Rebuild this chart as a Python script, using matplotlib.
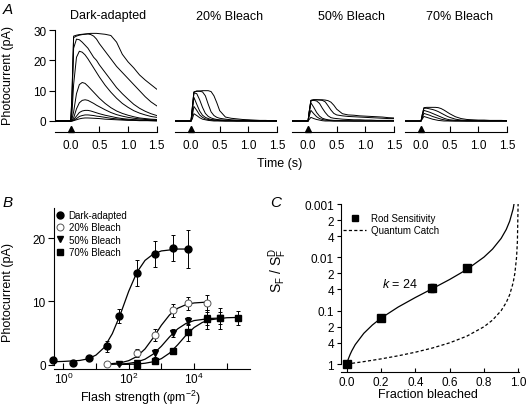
import matplotlib
matplotlib.use('Agg')
import matplotlib.pyplot as plt
from matplotlib.lines import Line2D

plt.rcParams['font.family'] = ['Liberation Sans', 'DejaVu Sans']
plt.rcParams['mathtext.fontset'] = 'custom'
plt.rcParams['mathtext.rm'] = 'Liberation Sans'
plt.rcParams['mathtext.it'] = 'Liberation Sans:italic'
plt.rcParams['axes.linewidth'] = 0.8

# --- panel A: flash responses (pA) on a common time grid (s) ---
t_grid = [-0.28, 0, 0.02, 0.05, 0.1, 0.15, 0.2, 0.25, 0.3, 0.35, 0.4, 0.45,
          0.5, 0.6, 0.7, 0.8, 0.9, 1.0, 1.1, 1.2, 1.3, 1.4, 1.5]

dark_traces = [
    [0, 0, 8, 28, 28.3, 28.5, 28.6, 28.7, 28.8, 28.9, 28.9, 28.9, 28.8, 28.6, 28.2, 26, 22, 19.5, 17.5, 15.2, 13.5, 12, 10.5],
    [0, 0, 7, 27.5, 28, 28.3, 28.5, 28.6, 28.7, 28.5, 28, 27, 25.5, 23, 20.5, 18, 16, 14, 12, 10, 8, 6.3, 5],
    [0, 0, 5, 24, 27, 26.8, 26, 25, 24, 22.5, 21, 20, 18.5, 16, 13.5, 11, 9, 7.2, 5.5, 4.2, 3.2, 2.4, 1.8],
    [0, 0, 2, 12, 21, 23, 22.7, 21.8, 20.5, 19, 17.5, 16, 14.5, 11.8, 9.5, 7.5, 5.8, 4.5, 3.4, 2.6, 2, 1.5, 1.2],
    [0, 0, 0.5, 3, 9, 12, 12.7, 12.4, 11.5, 10.5, 9.5, 8.5, 7.5, 5.8, 4.4, 3.3, 2.5, 1.9, 1.4, 1.0, 0.8, 0.6, 0.5],
    [0, 0, 0.2, 1, 4, 6, 6.8, 7, 6.8, 6.3, 5.8, 5.2, 4.7, 3.7, 2.8, 2.1, 1.6, 1.2, 0.9, 0.7, 0.5, 0.4, 0.3],
    [0, 0, 0, 0.4, 1.6, 2.8, 3.3, 3.5, 3.5, 3.3, 3.0, 2.7, 2.4, 1.9, 1.5, 1.1, 0.8, 0.6, 0.45, 0.35, 0.3, 0.2, 0.2],
    [0, 0, 0, 0.2, 0.8, 1.5, 1.8, 2.0, 2.0, 1.9, 1.8, 1.6, 1.5, 1.2, 0.9, 0.7, 0.5, 0.4, 0.3, 0.2, 0.2, 0.1, 0.1],
    [0, 0, 0, 0.1, 0.4, 0.7, 0.9, 1.0, 1.0, 0.95, 0.9, 0.85, 0.8, 0.6, 0.5, 0.4, 0.3, 0.2, 0.2, 0.1, 0.1, 0.1, 0],
]
bleach20_traces = [
    [0, 0, 4, 9.6, 9.9, 9.9, 10, 10, 10, 9.7, 8.3, 6.0, 3.4, 1.3, 0.9, 0.7, 0.5, 0.4, 0.3, 0.2, 0.2, 0.1, 0.1],
    [0, 0, 4, 9.5, 9.8, 9.8, 9.6, 8.3, 5.5, 3.0, 1.8, 1.2, 0.9, 0.6, 0.4, 0.3, 0.2, 0.2, 0.1, 0.1, 0.1, 0, 0],
    [0, 0, 3.5, 9.3, 9.0, 7.0, 4.5, 2.5, 1.5, 1.0, 0.7, 0.5, 0.4, 0.3, 0.2, 0.1, 0.1, 0.1, 0, 0, 0, 0, 0],
    [0, 0, 3, 7.8, 5.5, 3.3, 1.9, 1.2, 0.8, 0.5, 0.4, 0.3, 0.2, 0.1, 0.1, 0, 0, 0, 0, 0, 0, 0, 0],
    [0, 0, 1.5, 4.8, 3.5, 2.0, 1.2, 0.7, 0.5, 0.3, 0.2, 0.2, 0.1, 0, 0, 0, 0, 0, 0, 0, 0, 0, 0],
    [0, 0, 0.6, 2.4, 1.8, 1.1, 0.6, 0.4, 0.2, 0.1, 0, 0, 0, 0, 0, 0, 0, 0, 0, 0, 0, 0, 0],
]
bleach50_traces = [
    [0, 0, 3, 6.8, 7.0, 7.0, 7.0, 7.0, 6.9, 6.7, 6.2, 5.2, 3.9, 2.4, 2.0, 1.9, 1.7, 1.6, 1.5, 1.4, 1.3, 1.1, 1.0],
    [0, 0, 3, 6.8, 7.0, 7.0, 6.9, 6.8, 6.3, 5.0, 3.6, 2.5, 2.0, 1.7, 1.5, 1.4, 1.3, 1.2, 1.1, 1.0, 0.9, 0.8, 0.8],
    [0, 0, 3, 6.7, 6.8, 6.6, 5.8, 4.2, 2.8, 1.7, 1.1, 0.9, 0.8, 0.6, 0.5, 0.4, 0.4, 0.3, 0.3, 0.2, 0.2, 0.2, 0.2],
    [0, 0, 2.5, 6.0, 4.5, 2.8, 1.6, 0.9, 0.6, 0.4, 0.3, 0.2, 0.2, 0.1, 0.1, 0, 0, 0, 0, 0, 0, 0, 0],
    [0, 0, 1.5, 3.5, 2.4, 1.4, 0.8, 0.5, 0.3, 0.2, 0.1, 0, 0, 0, 0, 0, 0, 0, 0, 0, 0, 0, 0],
    [0, 0, 0.5, 1.2, 0.8, 0.5, 0.3, 0.1, 0, 0, 0, 0, 0, 0, 0, 0, 0, 0, 0, 0, 0, 0, 0],
]
bleach70_traces = [
    [0, 0, 2, 4.4, 4.5, 4.5, 4.5, 4.5, 4.4, 4.1, 3.6, 3.0, 2.4, 1.4, 0.8, 0.5, 0.4, 0.3, 0.3, 0.2, 0.2, 0.2, 0.1],
    [0, 0, 2, 4.2, 4.2, 4.0, 3.8, 3.5, 3.1, 2.6, 2.1, 1.6, 1.2, 0.6, 0.3, 0.2, 0.1, 0.1, 0, 0, 0, 0, 0],
    [0, 0, 1.5, 3.5, 3.2, 2.9, 2.5, 2.1, 1.7, 1.3, 0.9, 0.6, 0.4, 0.2, 0.1, 0, 0, 0, 0, 0, 0, 0, 0],
    [0, 0, 1, 2.5, 2.2, 1.9, 1.5, 1.2, 0.9, 0.6, 0.4, 0.2, 0.1, 0, 0, 0, 0, 0, 0, 0, 0, 0, 0],
    [0, 0, 0.6, 1.5, 1.2, 0.9, 0.6, 0.4, 0.2, 0.1, 0, 0, 0, 0, 0, 0, 0, 0, 0, 0, 0, 0, 0],
]
titles_a = ['Dark-adapted', '20% Bleach', '50% Bleach', '70% Bleach']
time_ticks = [0.0, 0.5, 1.0, 1.5]

# --- panel B: intensity-response ---
flash_dark = [0.5, 2, 6, 22, 50, 180, 630, 2300, 6600]
resp_dark = [0.7, 0.3, 1.0, 2.9, 7.7, 14.5, 17.5, 18.5, 18.3]
err_dark = [0.2, 0.2, 0.3, 0.9, 1.1, 2.0, 2.1, 2.1, 3.0]
flash_20 = [22, 180, 630, 2300, 6600, 25000]
resp_20 = [0.1, 1.8, 4.7, 8.6, 9.7, 9.8]
err_20 = [0.0, 0.65, 1.0, 1.0, 1.0, 1.2]
flash_50 = [50, 180, 630, 2300, 6600, 25000, 62000]
resp_50 = [0.1, 0.3, 1.8, 5.0, 6.9, 7.3, 7.3]
err_50 = [0.2, 0.3, 0.65, 0.65, 0.65, 1.0, 1.7]
flash_70 = [180, 630, 2300, 6600, 25000, 62000, 224000]
resp_70 = [0.0, 0.6, 2.2, 5.1, 7.2, 7.4, 7.4]
err_70 = [0.1, 0.3, 0.5, 1.3, 1.5, 1.0, 1.1]

# fitted curves
fit_dark_x = [0.5, 1, 3.16, 5.6, 10, 17.8, 31.6, 56, 100, 178, 316, 562, 1000, 3162, 6600]
fit_dark_y = [0.45, 0.5, 0.65, 0.9, 1.5, 2.7, 4.9, 8.0, 11.6, 14.6, 16.5, 17.5, 18.0, 18.3, 18.3]
fit_20_x = [22, 56, 100, 178, 316, 562, 1000, 1778, 3162, 5623, 10000, 25000]
fit_20_y = [0.08, 0.28, 0.62, 1.28, 2.48, 4.24, 6.23, 7.87, 8.92, 9.49, 9.76, 9.9]
fit_50_x = [22, 56, 100, 178, 316, 562, 1000, 1778, 3162, 5623, 10000, 31623, 63000]
fit_50_y = [0.02, 0.08, 0.19, 0.41, 0.85, 1.66, 2.91, 4.39, 5.66, 6.51, 6.97, 7.31, 7.37]
fit_70_x = [50, 100, 178, 316, 562, 1000, 1778, 3162, 5623, 10000, 17783, 31623, 100000, 224000]
fit_70_y = [0.02, 0.04, 0.09, 0.21, 0.45, 0.94, 1.82, 3.14, 4.63, 5.87, 6.67, 7.1, 7.42, 7.47]

# --- panel C: relative sensitivity vs fraction bleached ---
frac_pts = [0.0, 0.2, 0.5, 0.7]
sens_pts = [1.0, 0.138, 0.0377, 0.0161]
sens_err = [0.0, 0.006, 0.006, 0.0015]
rod_fit_x = [0, 0.005, 0.01, 0.02, 0.03, 0.05, 0.1, 0.15, 0.2, 0.3, 0.4, 0.5, 0.6, 0.7,
             0.8, 0.85, 0.9, 0.93, 0.95, 0.97, 0.98]
rod_fit_y = [1, 0.888, 0.798, 0.662, 0.564, 0.432, 0.265, 0.185, 0.138, 0.0854, 0.0566,
             0.0385, 0.026, 0.0169, 0.0099, 0.0070, 0.00442, 0.0030, 0.0021, 0.00124, 0.000816]
catch_x = [0, 0.1, 0.2, 0.3, 0.4, 0.5, 0.6, 0.7, 0.8, 0.85, 0.9, 0.93, 0.95, 0.97,
           0.98, 0.99, 0.995, 0.999]
catch_y = [1, 0.9, 0.8, 0.7, 0.6, 0.5, 0.4, 0.3, 0.2, 0.15, 0.1, 0.07, 0.05, 0.03,
           0.02, 0.01, 0.005, 0.001]

W, H = 527, 410
FS = 8.5


def box(l, t, r, b):
    """pixel box (top-left origin) -> figure fraction rect"""
    return [l / W, 1 - b / H, (r - l) / W, (b - t) / H]


def ftext(x, y, s, **kw):
    fig.text(x / W, 1 - y / H, s, **kw)


fig = plt.figure(figsize=(W / 100, H / 100), dpi=100)

# ---------------- A ----------------
lefts_a = [54.7, 175, 292, 405]
title_x = [108, 229.5, 352, 460]
all_traces = [dark_traces, bleach20_traces, bleach50_traces, bleach70_traces]
for i, traces in enumerate(all_traces):
    ax = fig.add_axes(box(lefts_a[i], 28, lefts_a[i] + 102, 133))
    for tr in traces:
        ax.plot(t_grid, tr, color='k', lw=0.7)
    ax.set_xlim(-0.28, 1.5)
    ax.set_ylim(-3.63, 31)
    ax.patch.set_visible(False)
    for s in ['top', 'right']:
        ax.spines[s].set_visible(False)
    ax.set_xticks(time_ticks)
    ax.set_xticklabels(['%.1f' % v for v in time_ticks], fontsize=FS)
    ax.tick_params(axis='x', direction='in', length=4, width=0.8, pad=5)
    ax.plot([0], [-2.75], marker='^', color='k', ms=4.5, clip_on=False)
    if i == 0:
        ax.spines['left'].set_bounds(0, 30)
        ax.set_yticks([0, 10, 20, 30])
        ax.tick_params(axis='y', direction='out', length=4, width=0.8, pad=2, labelsize=FS)
    else:
        ax.spines['left'].set_visible(False)
        ax.set_yticks([])
    ftext(title_x[i], 16.5, titles_a[i], ha='center', va='center', fontsize=9)

ftext(8, 76, 'Photocurrent (pA)', rotation=90, ha='center', va='center', fontsize=9)
ftext(280, 164, 'Time (s)', ha='center', va='center', fontsize=9)
ftext(3, 10, 'A', ha='left', va='center', fontsize=11, style='italic')

# ---------------- B ----------------
axb = fig.add_axes(box(54, 209, 250, 370))
axb.set_xscale('log')
axb.set_xlim(10 ** -0.284, 10 ** 5.71)
axb.set_ylim(-0.7, 24.8)
axb.patch.set_visible(False)
for s in ['top', 'right']:
    axb.spines[s].set_visible(False)
axb.spines['left'].set_bounds(0, 24.8)

axb.plot(fit_dark_x, fit_dark_y, color='k', lw=0.9)
axb.plot(fit_20_x, fit_20_y, color='k', lw=0.9)
axb.plot(fit_50_x, fit_50_y, color='k', lw=0.9)
axb.plot(fit_70_x, fit_70_y, color='k', lw=0.9)

eb = dict(ecolor='k', elinewidth=0.7, capsize=1.5, capthick=0.7, ls='none', clip_on=False)
axb.errorbar(flash_dark, resp_dark, yerr=err_dark, marker='o', ms=5, mfc='k', mec='k', **eb)
axb.errorbar(flash_20, resp_20, yerr=err_20, marker='o', ms=5, mfc='white', mec='#555555', mew=0.7, **eb)
axb.errorbar(flash_50, resp_50, yerr=err_50, marker='v', ms=5, mfc='k', mec='k', **eb)
axb.errorbar(flash_70, resp_70, yerr=err_70, marker='s', ms=4, mfc='k', mec='k', **eb)

axb.set_xticks([1, 10, 100, 1e3, 1e4, 1e5])
axb.set_xticklabels(['10$^{0}$', '', '10$^{2}$', '', '10$^{4}$', ''], fontsize=FS)
axb.xaxis.set_minor_locator(plt.NullLocator())
axb.tick_params(axis='x', direction='in', length=4, width=0.8, pad=1.5)
axb.set_yticks([0, 10, 20])
axb.tick_params(axis='y', direction='out', length=4, width=0.8, pad=2, labelsize=FS)

leg_handles = [
    Line2D([], [], ls='none', marker='o', ms=5, mfc='k', mec='k'),
    Line2D([], [], ls='none', marker='o', ms=5, mfc='white', mec='#555555', mew=0.7),
    Line2D([], [], ls='none', marker='v', ms=5, mfc='k', mec='k'),
    Line2D([], [], ls='none', marker='s', ms=4, mfc='k', mec='k'),
]
axb.legend(leg_handles, ['Dark-adapted', '20% Bleach', '50% Bleach', '70% Bleach'],
           loc='upper left', bbox_to_anchor=(54 / W, 1 - 209 / H), bbox_transform=fig.transFigure,
           frameon=False, fontsize=7, handlelength=0.8, handletextpad=0.5,
           labelspacing=0.25, borderpad=0.2, borderaxespad=0)

ftext(8, 293, 'Photocurrent (pA)', rotation=90, ha='center', va='center', fontsize=9)
ftext(141, 397.5, 'Flash strength (\u03c6m$^{-2}$)', ha='center', va='center', fontsize=9)
ftext(3, 203, 'B', ha='left', va='center', fontsize=11, style='italic')

# ---------------- C ----------------
axc = fig.add_axes(box(341, 205, 519.3, 372.7))
axc.set_yscale('log')
axc.set_xlim(-0.033, 1.006)
axc.set_ylim(1.39, 0.001)
axc.patch.set_visible(False)
for s in ['top', 'right']:
    axc.spines[s].set_visible(False)
axc.spines['left'].set_bounds(1, 0.001)

axc.plot(rod_fit_x, rod_fit_y, color='k', lw=0.9)
axc.plot(catch_x, catch_y, color='k', lw=0.9, ls=(0, (2.5, 1.8)))
axc.errorbar(frac_pts, sens_pts, yerr=sens_err, marker='s', ms=6, mfc='k', mec='k',
             ecolor='k', elinewidth=0.7, capsize=1.5, ls='none', clip_on=False)

yt = [0.001, 0.002, 0.004, 0.01, 0.02, 0.04, 0.1, 0.2, 0.4, 1]
axc.set_yticks(yt)
axc.set_yticklabels(['0.001', '2', '4', '0.01', '2', '4', '0.1', '2', '4', '1'], fontsize=FS)
axc.yaxis.set_minor_locator(plt.NullLocator())
axc.tick_params(axis='y', direction='out', length=3, width=0.8, pad=2)
xt = [0.0, 0.2, 0.4, 0.6, 0.8, 1.0]
axc.set_xticks(xt)
axc.set_xticklabels(['%.1f' % v for v in xt], fontsize=FS)
axc.tick_params(axis='x', direction='in', length=3, width=0.8, pad=3)

leg_c = [
    Line2D([], [], ls='none', marker='s', ms=5, mfc='k', mec='k'),
    Line2D([], [], color='k', lw=0.9, ls=(0, (2.5, 1.8))),
]
axc.legend(leg_c, ['Rod Sensitivity', 'Quantum Catch'], loc='upper left',
           bbox_to_anchor=(342 / W, 1 - 213 / H), bbox_transform=fig.transFigure,
           frameon=False, fontsize=7, handlelength=2.4, handletextpad=0.5,
           labelspacing=0.25, borderpad=0.1, borderaxespad=0)

ftext(381.7, 285, '$k$ = 24', ha='left', va='center', fontsize=9)
ftext(278, 270, 'S$_\\mathregular{F}$ / S$_\\mathregular{F}^\\mathregular{D}$', rotation=90,
      ha='center', va='center', fontsize=10)
ftext(428, 395, 'Fraction bleached', ha='center', va='center', fontsize=9)
ftext(270, 203, 'C', ha='left', va='center', fontsize=11, style='italic')

fig.savefig('out.png', dpi=100)
